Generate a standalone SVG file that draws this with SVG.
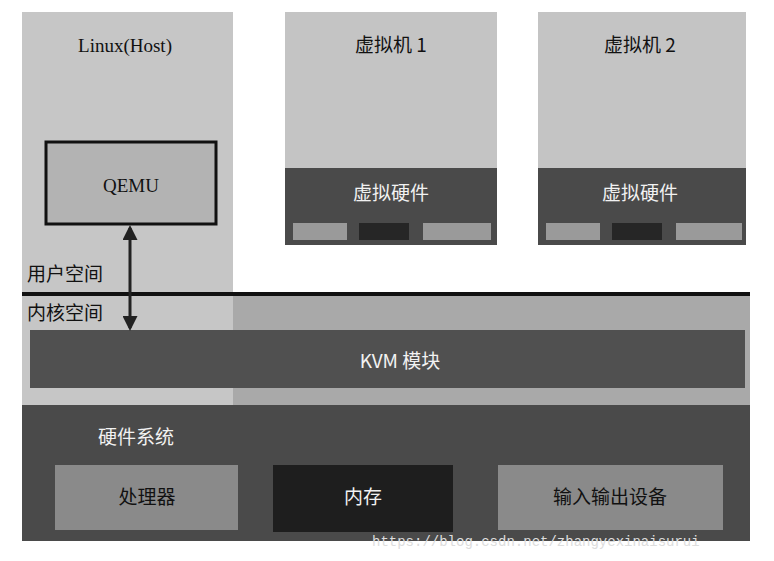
<svg xmlns="http://www.w3.org/2000/svg" width="774" height="561" viewBox="0 0 774 561">
<style>
.t{font-family:"Noto Sans CJK SC","Liberation Sans",sans-serif;font-size:19px;text-anchor:middle}
.s{font-family:"Liberation Serif","Noto Sans CJK SC",serif;font-size:19px;text-anchor:middle;fill:#111}
.w{fill:#f2f2f2}
.k{fill:#111}
</style>
<defs>
<marker id="a" viewBox="0 0 10 10" refX="8" refY="5" markerWidth="5" markerHeight="5" orient="auto-start-reverse"><path d="M0,0L10,5L0,10z" fill="#222"/></marker>
</defs>
<rect width="774" height="561" fill="#fff"/>
<g id="host">
<rect x="22" y="12" width="211" height="393" fill="#c6c6c6"/>
<rect x="233" y="296" width="517" height="109" fill="#a9a9a9"/>
<text class="s" x="125" y="52">Linux(Host)</text>
<text class="t k" x="27" y="281" style="text-anchor:start">用户空间</text>
<text class="t k" x="27" y="320" style="text-anchor:start">内核空间</text>
</g>
<g id="qemu">
<rect x="46" y="142" width="170" height="82" fill="#b3b3b3" stroke="#111" stroke-width="3"/>
<text class="s" x="131" y="192">QEMU</text>
</g>
<g id="vm1">
<rect x="285" y="12" width="212" height="156" fill="#c4c4c4"/>
<rect x="285" y="168" width="212" height="77" fill="#4a4a4a"/>
<text class="t k" x="391" y="52">虚拟机 1</text>
<text class="t w" x="391" y="200">虚拟硬件</text>
<rect x="293" y="223" width="54" height="17" fill="#9a9a9a"/>
<rect x="359" y="223" width="50" height="17" fill="#262626"/>
<rect x="423" y="223" width="68" height="17" fill="#9a9a9a"/>
</g>
<g id="vm2">
<rect x="538" y="12" width="208" height="156" fill="#c4c4c4"/>
<rect x="538" y="168" width="208" height="77" fill="#4a4a4a"/>
<text class="t k" x="640" y="52">虚拟机 2</text>
<text class="t w" x="640" y="200">虚拟硬件</text>
<rect x="546" y="223" width="54" height="17" fill="#9a9a9a"/>
<rect x="612" y="223" width="50" height="17" fill="#262626"/>
<rect x="676" y="223" width="66" height="17" fill="#9a9a9a"/>
</g>
<g id="kvm">
<rect x="30" y="330" width="715" height="58" fill="#505050"/>
<text class="t w" x="400" y="368">KVM 模块</text>
</g>
<g id="hw">
<rect x="22" y="405" width="728" height="136" fill="#4a4a4a"/>
<text class="t w" x="136" y="444">硬件系统</text>
<rect x="55" y="465" width="183" height="65" fill="#8a8a8a"/>
<text class="t k" x="147" y="504">处理器</text>
<rect x="273" y="465" width="180" height="67" fill="#1e1e1e"/>
<text class="t w" x="363" y="504">内存</text>
<rect x="498" y="465" width="225" height="65" fill="#8a8a8a"/>
<text class="t k" x="610" y="504">输入输出设备</text>
</g>
<g id="connectors">
<line x1="22" y1="294" x2="750" y2="294" stroke="#111" stroke-width="4"/>
<line x1="130" y1="228" x2="130" y2="328" stroke="#222" stroke-width="3" marker-start="url(#a)" marker-end="url(#a)"/>
</g>
<text x="372" y="546" font-family="Liberation Mono,monospace" font-size="14" fill="#ddd">https://blog.csdn.net/zhangyexinaisurui</text>
</svg>
